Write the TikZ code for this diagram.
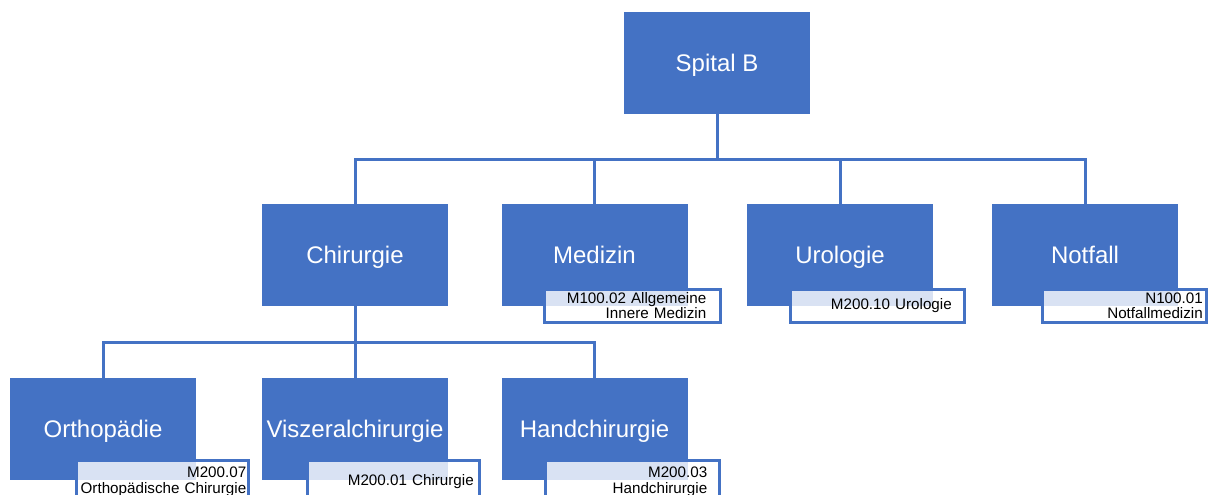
\documentclass[tikz,border=0pt]{standalone}
\usepackage{fontspec}
\setmainfont{Liberation Sans}
\usetikzlibrary{positioning,calc}
\definecolor{unitblue}{RGB}{68,114,196}

\begin{document}
\begin{tikzpicture}[x=0.75pt,y=-0.75pt,
   unit/.style={fill=unitblue,text=white,minimum width=139.5pt,minimum height=76.5pt,
   font=\fontsize{18}{20}\selectfont,inner sep=0pt,text height=12.9pt,text depth=0pt},
   tag/.style={draw=unitblue,line width=2.25pt,fill=white,fill opacity=0.8,text opacity=1,
   anchor=north east,align=right,inner ysep=0pt,minimum height=24.75pt,
   font=\fontsize{11.4}{11.5}\selectfont},
   lowtag/.style={tag,minimum height=32.25pt,font=\fontsize{11.4}{12.5}\selectfont},
   link/.style={draw=unitblue,line width=2.25pt}]
 \useasboundingbox (0,0) rectangle (1209,495);
 \clip (0,0) rectangle (1209,495);

 \node[unit] (spital) at (717,63) {Spital B};
 \node[unit] (chir) at (355,255) {Chirurgie};
 \node[unit] (med) at (594.5,255) {Medizin};
 \node[unit] (uro) at (840,255) {Urologie};
 \node[unit] (notf) at (1085,255) {Notfall};
 \node[unit] (orth) at (103,429) {Orthopädie};
 \node[unit] (visz) at (355,429) {Viszeralchirurgie};
 \node[unit] (hand) at (594.5,429) {Handchirurgie};

 \foreach \Dep in {chir,med,uro,notf}
 {\draw[link] (spital.south) -- ++(0,45) -| (\Dep.north);}
 \foreach \Dep in {orth,visz,hand}
 {\draw[link] (chir.south) -- ++(0,36) -| (\Dep.north);}

 \node[tag,text width=110.25pt,inner xsep=10.875pt] (tmed) at ($(med.south east)+(34.5,-18.5)$)
   {M100.02 Allgemeine\\Innere Medizin};
 \node[tag,text width=111.75pt,inner xsep=9.375pt] (turo) at ($(uro.south east)+(32.5,-18.5)$)
   {M200.10 Urologie};
 \node[tag,text width=117.75pt,inner xsep=2.625pt] (tnotf) at ($(notf.south east)+(29.5,-18.5)$)
   {N100.01\\Notfallmedizin};
 \node[lowtag,text width=125.625pt,inner xsep=1.5pt] (torth) at ($(orth.south east)+(53.5,-21.5)$)
   {M200.07\\Orthopädische Chirurgie};
 \node[lowtag,text width=120.75pt,inner xsep=4.125pt] (tvisz) at ($(visz.south east)+(32.5,-21.5)$)
   {M200.01 Chirurgie};
 \node[lowtag,text width=111.75pt,inner xsep=9.375pt] (thand) at ($(hand.south east)+(33.5,-21.5)$)
   {M200.03\\Handchirurgie};
\end{tikzpicture}
\end{document}
